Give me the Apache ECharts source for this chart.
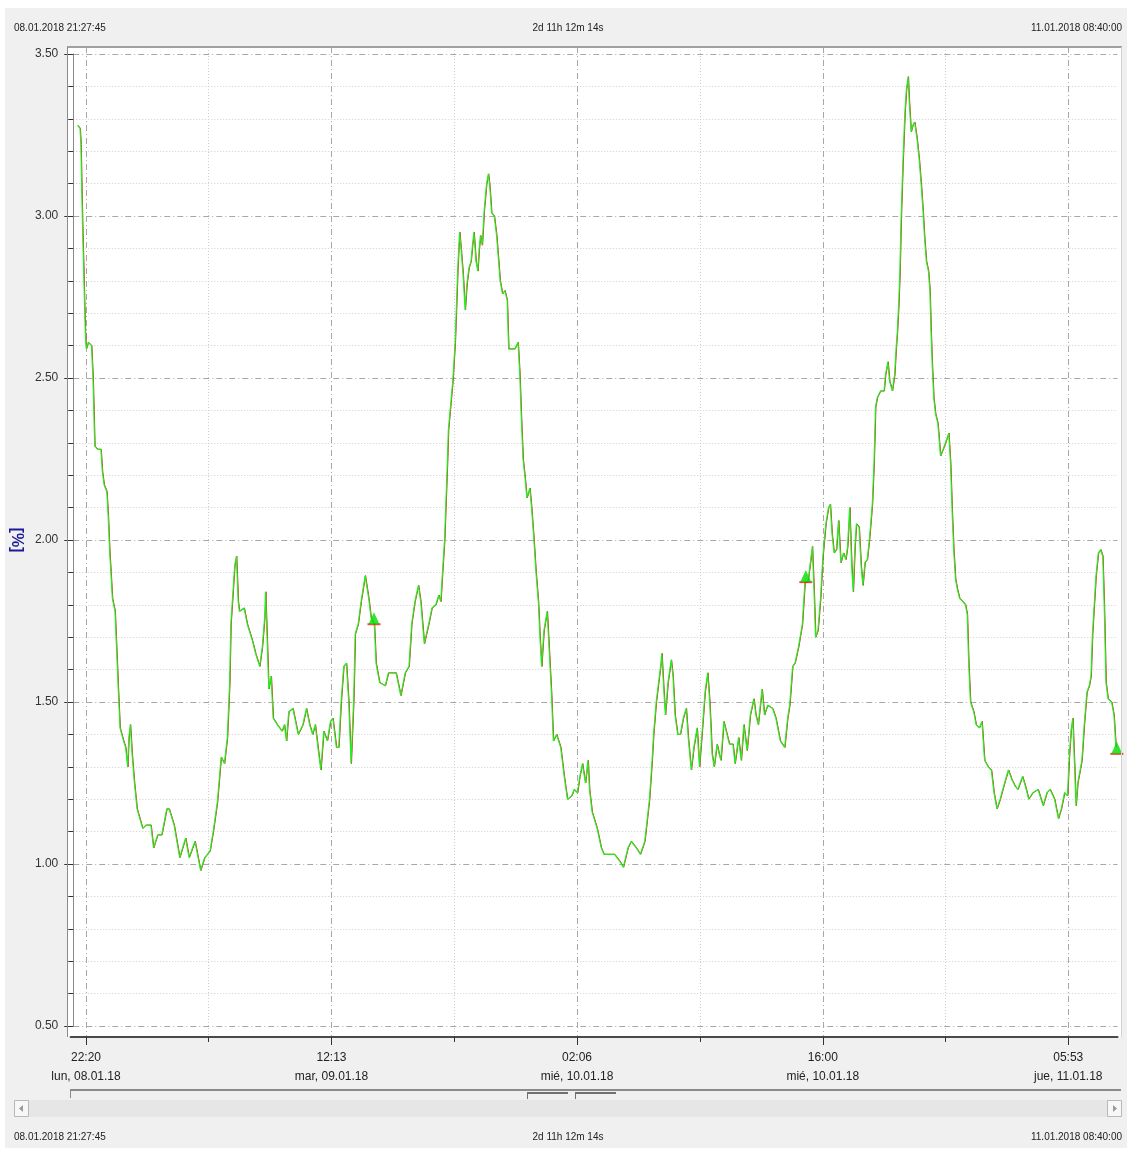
<!DOCTYPE html>
<html>
<head>
<meta charset="utf-8">
<script src="https://cdn.jsdelivr.net/npm/echarts@6/dist/echarts.min.js"></script>
<style>
  html, body { margin: 0; padding: 0; background: #fff; }
  #chart { width: 1130px; height: 1149px; }
</style>
</head>
<body>
<div id="chart"></div>
<script>
// rango de tiempo
const startTime = '2018-01-08T21:27:45Z';
const endTime = '2018-01-11T08:40:00Z';
const spanText = '2d 11h 12m 14s';
const startLabel = '08.01.2018 21:27:45';
const endLabel = '11.01.2018 08:40:00';

// etiquetas del eje x
const tickTimes = ['2018-01-08T22:20:00Z', '2018-01-09T12:13:00Z', '2018-01-10T02:06:00Z', '2018-01-10T16:00:00Z', '2018-01-11T05:53:00Z'];
const tickHours = ['22:20', '12:13', '02:06', '16:00', '05:53'];
const tickDays = ['lun, 08.01.18', 'mar, 09.01.18', 'mié, 10.01.18', 'mié, 10.01.18', 'jue, 11.01.18'];

// minutos desde el inicio
const sampleMin = [
  15, 23, 26, 28, 32, 35, 38, 41, 44, 51, 62, 67, 70, 73, 83, 94, 99, 105, 114, 119,
  124, 128, 133, 142, 148, 153, 159, 171, 178, 185, 189, 194, 200, 208, 217, 236, 247, 264, 273, 287,
  301, 318, 326, 343, 362, 382, 394, 414, 433, 447, 465, 476, 490, 503, 514, 524, 532, 536, 544, 549,
  555, 561, 565, 581, 592, 609, 620, 634, 643, 651, 654, 660, 665, 673, 680, 694, 710, 718, 725, 733,
  747, 765, 781, 793, 804, 814, 823, 835, 842, 852, 864, 875, 883, 895, 903, 911, 920, 929, 937, 945,
  954, 959, 969, 979, 993, 1005, 1013, 1024, 1030, 1042, 1061, 1072, 1089, 1098, 1114, 1129, 1142, 1151, 1162, 1174,
  1182, 1194, 1209, 1220, 1233, 1243, 1250, 1256, 1263, 1267, 1273, 1276, 1284, 1291, 1299, 1303, 1308, 1314, 1319, 1326,
  1333, 1339, 1346, 1353, 1358, 1363, 1370, 1376, 1380, 1385, 1391, 1398, 1406, 1412, 1417, 1423, 1432, 1440, 1446, 1452,
  1460, 1468, 1476, 1481, 1493, 1502, 1513, 1519, 1524, 1530, 1537, 1543, 1553, 1559, 1567, 1574, 1582, 1587, 1593, 1601,
  1612, 1619, 1627, 1633, 1644, 1658, 1670, 1681, 1695, 1704, 1715, 1723, 1732, 1742, 1751, 1756, 1765, 1782, 1796, 1805,
  1819, 1841, 1858, 1871, 1887, 1898, 1915, 1929, 1944, 1960, 1969, 1974, 1983, 1991, 1998, 2002, 2008, 2014, 2023, 2034,
  2040, 2047, 2056, 2065, 2075, 2085, 2092, 2102, 2111, 2122, 2130, 2141, 2149, 2158, 2165, 2173, 2180, 2190, 2197, 2203,
  2213, 2221, 2232, 2244, 2251, 2263, 2272, 2281, 2292, 2303, 2315, 2322, 2330, 2337, 2343, 2351, 2362, 2379, 2390, 2405,
  2420, 2430, 2437, 2447, 2455, 2467, 2480, 2489, 2499, 2506, 2514, 2520, 2525, 2533, 2542, 2550, 2560, 2569, 2575, 2581,
  2588, 2596, 2603, 2611, 2620, 2628, 2634, 2641, 2648, 2653, 2659, 2664, 2673, 2680, 2686, 2693, 2701, 2709, 2718, 2724,
  2729, 2735, 2746, 2758, 2763, 2771, 2777, 2786, 2794, 2799, 2803, 2808, 2812, 2816, 2822, 2829, 2834, 2840, 2844, 2850,
  2856, 2862, 2870, 2878, 2885, 2891, 2896, 2902, 2909, 2914, 2918, 2922, 2927, 2933, 2941, 2950, 2959, 2971, 2978, 2984,
  2990, 2995, 3001, 3007, 3015, 3026, 3035, 3041, 3046, 3052, 3063, 3071, 3082, 3091, 3100, 3112, 3123, 3132, 3142, 3153,
  3168, 3181, 3193, 3204, 3213, 3229, 3239, 3250, 3264, 3282, 3299, 3312, 3323, 3338, 3351, 3361, 3372, 3382, 3388, 3394,
  3400, 3405, 3411, 3417, 3425, 3431, 3439, 3448, 3456, 3462, 3467, 3473, 3479, 3487, 3495, 3502, 3507, 3513, 3520, 3532,
  3540, 3547
];

// valores [%]
const pctValues = [
  3.28, 3.27, 3.22, 3.12, 2.95, 2.85, 2.74, 2.64, 2.59, 2.61, 2.60, 2.50, 2.40, 2.29, 2.28, 2.28, 2.21, 2.17, 2.15, 2.07,
  1.96, 1.90, 1.82, 1.78, 1.65, 1.54, 1.42, 1.38, 1.36, 1.30, 1.39, 1.43, 1.34, 1.25, 1.17, 1.11, 1.12, 1.12, 1.05, 1.09,
  1.09, 1.17, 1.17, 1.12, 1.02, 1.08, 1.02, 1.07, 0.98, 1.02, 1.04, 1.10, 1.19, 1.33, 1.31, 1.39, 1.56, 1.74, 1.85, 1.92,
  1.95, 1.81, 1.78, 1.79, 1.74, 1.69, 1.65, 1.61, 1.67, 1.76, 1.84, 1.68, 1.54, 1.58, 1.45, 1.43, 1.41, 1.43, 1.38, 1.47,
  1.48, 1.40, 1.43, 1.48, 1.43, 1.40, 1.43, 1.34, 1.29, 1.41, 1.38, 1.44, 1.45, 1.36, 1.36, 1.50, 1.61, 1.62, 1.50, 1.31,
  1.51, 1.71, 1.74, 1.81, 1.89, 1.82, 1.76, 1.74, 1.62, 1.56, 1.55, 1.59, 1.59, 1.59, 1.52, 1.59, 1.61, 1.74, 1.81, 1.86,
  1.81, 1.68, 1.74, 1.79, 1.80, 1.83, 1.81, 1.90, 2.00, 2.10, 2.25, 2.34, 2.42, 2.49, 2.61, 2.71, 2.84, 2.95, 2.90, 2.82,
  2.71, 2.79, 2.84, 2.86, 2.91, 2.95, 2.86, 2.83, 2.89, 2.94, 2.91, 3.02, 3.10, 3.13, 3.09, 3.01, 3.00, 2.94, 2.87, 2.80,
  2.76, 2.77, 2.74, 2.59, 2.59, 2.59, 2.61, 2.51, 2.38, 2.25, 2.19, 2.13, 2.16, 2.10, 2.00, 1.90, 1.81, 1.71, 1.61, 1.72,
  1.78, 1.66, 1.52, 1.38, 1.40, 1.36, 1.27, 1.20, 1.21, 1.23, 1.22, 1.27, 1.31, 1.25, 1.32, 1.23, 1.16, 1.11, 1.05, 1.03,
  1.03, 1.03, 1.01, 0.99, 1.05, 1.07, 1.05, 1.03, 1.07, 1.20, 1.32, 1.40, 1.50, 1.56, 1.61, 1.65, 1.55, 1.46, 1.56, 1.63,
  1.58, 1.46, 1.40, 1.40, 1.45, 1.48, 1.39, 1.29, 1.36, 1.42, 1.30, 1.43, 1.53, 1.59, 1.50, 1.34, 1.30, 1.37, 1.34, 1.32,
  1.44, 1.41, 1.37, 1.37, 1.31, 1.39, 1.32, 1.43, 1.35, 1.46, 1.51, 1.46, 1.43, 1.49, 1.54, 1.46, 1.49, 1.48, 1.45, 1.38,
  1.36, 1.45, 1.49, 1.61, 1.62, 1.67, 1.74, 1.87, 1.87, 1.92, 1.98, 1.84, 1.70, 1.72, 1.82, 1.95, 2.05, 2.10, 2.11, 2.02,
  1.96, 1.97, 2.06, 1.93, 1.96, 1.94, 1.98, 2.10, 1.92, 1.84, 1.98, 2.05, 2.04, 1.92, 1.86, 1.93, 1.94, 2.01, 2.11, 2.24,
  2.41, 2.44, 2.46, 2.46, 2.51, 2.55, 2.49, 2.46, 2.51, 2.59, 2.64, 2.73, 2.83, 2.99, 3.16, 3.32, 3.39, 3.43, 3.35, 3.26,
  3.28, 3.29, 3.24, 3.17, 3.09, 3.01, 2.93, 2.86, 2.83, 2.77, 2.64, 2.54, 2.44, 2.39, 2.36, 2.26, 2.28, 2.31, 2.33, 2.24,
  2.08, 1.97, 1.88, 1.85, 1.82, 1.81, 1.80, 1.77, 1.62, 1.50, 1.47, 1.43, 1.42, 1.44, 1.32, 1.30, 1.29, 1.22, 1.17, 1.20,
  1.25, 1.29, 1.26, 1.24, 1.23, 1.27, 1.24, 1.20, 1.22, 1.23, 1.18, 1.22, 1.23, 1.20, 1.14, 1.17, 1.22, 1.21, 1.33, 1.41,
  1.45, 1.33, 1.18, 1.25, 1.29, 1.32, 1.43, 1.53, 1.55, 1.58, 1.71, 1.80, 1.89, 1.96, 1.97, 1.95, 1.80, 1.56, 1.51, 1.50,
  1.46, 1.36
];

// marcas (triángulos)
const markMin = [1023, 2492, 3550];
const markVal = [1.74, 1.87, 1.34];

const t0 = Date.parse(startTime);
const TOTAL = (Date.parse(endTime) - t0) / 60000;
const majorVals = tickTimes.map(function (s) { return (Date.parse(s) - t0) / 60000; });
const minorVals = [];
for (let i = 0; i < majorVals.length - 1; i++) {
  minorVals.push((majorVals[i] + majorVals[i + 1]) / 2);
}

const FONT = 'Liberation Sans';
const greenData = sampleMin.map(function (m, i) { return [m, pctValues[i]]; });
const redData = sampleMin.map(function (m, i) { return [m + 1.5, pctValues[i]]; });
const markData = markMin.map(function (m, i) { return [m, markVal[i]]; });

let chart = echarts.init(document.getElementById('chart'));

let option = {
  backgroundColor: '#ffffff',
  animation: false,
  grid: [
    { left: 70.6, right: 12.5, top: 54, bottom: 123, show: false },
    { left: 70.6, right: 12.5, top: 47, bottom: 112, show: false }
  ],
  xAxis: [
    { gridIndex: 0, type: 'value', min: 0, max: TOTAL, show: false },
    {
      gridIndex: 1, type: 'value', min: 0, max: TOTAL, position: 'bottom',
      axisLine: { show: true, lineStyle: { color: '#4a4a4a', width: 2 } },
      axisTick: { show: true, customValues: majorVals, length: 8, lineStyle: { color: '#333', width: 1 } },
      axisLabel: {
        customValues: majorVals,
        margin: 11,
        color: '#222',
        fontFamily: FONT,
        fontSize: 12,
        lineHeight: 19,
        formatter: function (v) {
          let idx = 0, best = Infinity;
          majorVals.forEach(function (mv, i) {
            if (Math.abs(mv - v) < best) { best = Math.abs(mv - v); idx = i; }
          });
          return tickHours[idx] + '\n' + tickDays[idx];
        }
      },
      splitLine: { show: true, lineStyle: { color: '#a8a8a8', width: 1, type: [6, 3, 1, 3] } }
    },
    {
      gridIndex: 1, type: 'value', min: 0, max: TOTAL, position: 'bottom',
      axisLine: { show: false },
      axisTick: { show: true, customValues: minorVals, length: 5, lineStyle: { color: '#333', width: 1 } },
      axisLabel: { show: false },
      splitLine: { show: true, lineStyle: { color: '#cfcfcf', width: 1, type: [1, 2] } }
    }
  ],
  yAxis: [
    {
      gridIndex: 0, type: 'value', min: 0.5, max: 3.5, interval: 0.5,
      name: '[%]', nameLocation: 'middle', nameGap: 36, nameRotate: -90,
      nameTextStyle: { color: '#1a1a99', fontWeight: 'bold', fontSize: 16, fontFamily: FONT },
      axisLine: { show: true, lineStyle: { color: '#8a8a8a', width: 1 } },
      axisTick: { show: true, length: 9, lineStyle: { color: '#333' } },
      minorTick: { show: true, splitNumber: 5, length: 5, lineStyle: { color: '#333' } },
      axisLabel: {
        margin: 15, color: '#333', fontFamily: FONT, fontSize: 12,
        formatter: function (v) { return v.toFixed(2); }
      },
      splitLine: { show: true, lineStyle: { color: '#a8a8a8', width: 1, type: [6, 3, 1, 3] } },
      minorSplitLine: { show: true, lineStyle: { color: '#cfcfcf', width: 1, type: [1, 2] } }
    },
    { gridIndex: 1, type: 'value', min: 0, max: 1, show: false }
  ],
  series: [
    {
      type: 'line', xAxisIndex: 0, yAxisIndex: 0, data: redData,
      showSymbol: false, lineStyle: { color: '#ee1111', width: 1 }, z: 2
    },
    {
      type: 'line', xAxisIndex: 0, yAxisIndex: 0, data: greenData,
      showSymbol: false, lineStyle: { color: '#22ee22', width: 1.2 }, z: 3
    },
    {
      type: 'scatter', xAxisIndex: 0, yAxisIndex: 0, data: markData,
      symbol: 'rect', symbolSize: [13, 2], itemStyle: { color: '#ff1010' }, z: 4
    },
    {
      type: 'scatter', xAxisIndex: 0, yAxisIndex: 0, data: markData,
      symbol: 'triangle', symbolSize: [11, 12], symbolOffset: [0, '-50%'],
      itemStyle: { color: '#00dd00' }, z: 5
    }
  ],
  graphic: {
    elements: [
      // fondo gris y área blanca
      { type: 'rect', z: -100, shape: { x: 5, y: 8, width: 1122, height: 1140 }, style: { fill: '#f0f0f0' } },
      { type: 'rect', z: -90, shape: { x: 68, y: 47, width: 1054, height: 990 }, style: { fill: '#ffffff' } },
      // marco
      { type: 'line', z: 10, shape: { x1: 67, y1: 47, x2: 1122, y2: 47 }, style: { stroke: '#a0a0a0', lineWidth: 2 } },
      { type: 'line', z: 10, shape: { x1: 67.5, y1: 47, x2: 67.5, y2: 1037 }, style: { stroke: '#8a8a8a', lineWidth: 1 } },
      { type: 'line', z: 10, shape: { x1: 1121.5, y1: 47, x2: 1121.5, y2: 1037 }, style: { stroke: '#d0d0d0', lineWidth: 1 } },
      // textos superiores
      { type: 'text', z: 10, x: 14, y: 28, style: { text: startLabel, fill: '#222', font: '10px "Liberation Sans"', textVerticalAlign: 'middle' } },
      { type: 'text', z: 10, x: 568, y: 28, style: { text: spanText, fill: '#222', font: '10px "Liberation Sans"', textAlign: 'center', textVerticalAlign: 'middle' } },
      { type: 'text', z: 10, x: 1122, y: 28, style: { text: endLabel, fill: '#222', font: '10px "Liberation Sans"', textAlign: 'right', textVerticalAlign: 'middle' } },
      // barra de desplazamiento
      { type: 'line', z: 10, shape: { x1: 70, y1: 1090, x2: 1121, y2: 1090 }, style: { stroke: '#8a8a8a', lineWidth: 2 } },
      { type: 'line', z: 10, shape: { x1: 70.5, y1: 1090, x2: 70.5, y2: 1098 }, style: { stroke: '#8a8a8a', lineWidth: 1 } },
      { type: 'line', z: 10, shape: { x1: 527, y1: 1093, x2: 568, y2: 1093 }, style: { stroke: '#707070', lineWidth: 2 } },
      { type: 'line', z: 10, shape: { x1: 527.5, y1: 1093, x2: 527.5, y2: 1099 }, style: { stroke: '#707070', lineWidth: 1 } },
      { type: 'line', z: 10, shape: { x1: 575, y1: 1093, x2: 616, y2: 1093 }, style: { stroke: '#707070', lineWidth: 2 } },
      { type: 'line', z: 10, shape: { x1: 575.5, y1: 1093, x2: 575.5, y2: 1099 }, style: { stroke: '#707070', lineWidth: 1 } },
      { type: 'rect', z: 10, shape: { x: 14, y: 1100, width: 1108, height: 17 }, style: { fill: '#e6e6e6' } },
      { type: 'rect', z: 11, shape: { x: 14.5, y: 1100.5, width: 14, height: 16 }, style: { fill: '#f7f7f7', stroke: '#b8b8b8', lineWidth: 1 } },
      { type: 'polygon', z: 12, shape: { points: [[19, 1108.5], [23, 1105], [23, 1112]] }, style: { fill: '#9a9a9a' } },
      { type: 'rect', z: 11, shape: { x: 1107.5, y: 1100.5, width: 14, height: 16 }, style: { fill: '#f7f7f7', stroke: '#b8b8b8', lineWidth: 1 } },
      { type: 'polygon', z: 12, shape: { points: [[1117, 1108.5], [1113, 1105], [1113, 1112]] }, style: { fill: '#9a9a9a' } },
      // textos inferiores
      { type: 'text', z: 10, x: 14, y: 1137, style: { text: startLabel, fill: '#222', font: '10px "Liberation Sans"', textVerticalAlign: 'middle' } },
      { type: 'text', z: 10, x: 568, y: 1137, style: { text: spanText, fill: '#222', font: '10px "Liberation Sans"', textAlign: 'center', textVerticalAlign: 'middle' } },
      { type: 'text', z: 10, x: 1122, y: 1137, style: { text: endLabel, fill: '#222', font: '10px "Liberation Sans"', textAlign: 'right', textVerticalAlign: 'middle' } }
    ]
  }
};
chart.setOption(option);
</script>
</body>
</html>
